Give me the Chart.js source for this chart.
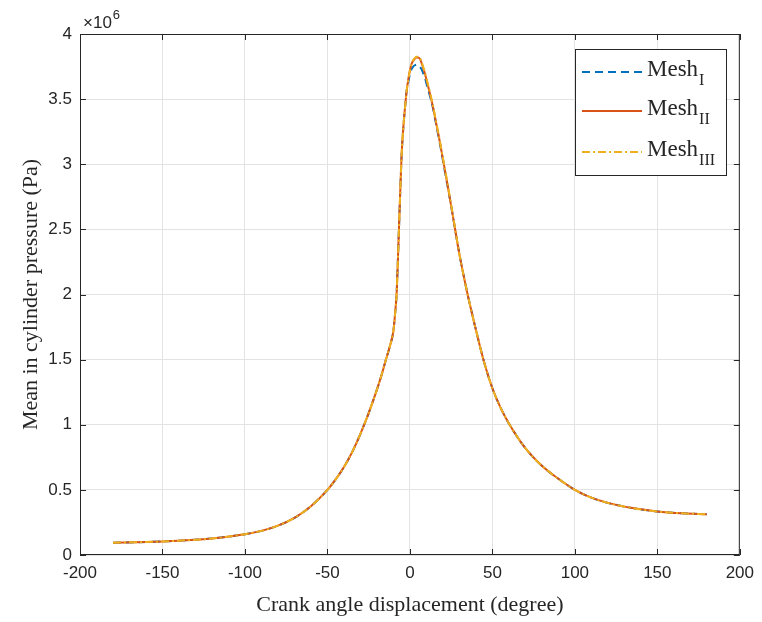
<!DOCTYPE html>
<html lang="en">
<head>
  <meta charset="UTF-8">
  <title>Mean in cylinder pressure</title>
  <script src="https://cdn.jsdelivr.net/npm/chart.js"></script>
  <style>
    html, body { margin: 0; padding: 0; background: #fff; }
    #wrap { width: 762px; height: 622px; }
  </style>
</head>
<body>
  <div id="wrap"><canvas id="chart" width="762" height="622"></canvas></div>

  <script>
    // crank angle (degree)
    const angles = [-180, -160, -140, -120, -100, -90, -80, -70, -60, -50,
      -45, -40, -35, -30, -25, -20, -17, -15, -12, -10,
      -9, -8, -7, -6, -5, -4, -3, -2, -1, 0,
      1, 2, 3, 4, 5, 6, 7, 8, 9, 10,
      12, 14, 16, 18, 20, 22,
      25, 27, 30, 35, 40, 45, 50, 55, 60,
      70, 80, 90, 100, 110, 120, 135, 150, 165, 180];

    // pressure, x10^6 Pa
    const meshI = [0.095, 0.100, 0.110, 0.127, 0.160, 0.185, 0.225, 0.285, 0.375, 0.50,
      0.58, 0.675, 0.79, 0.93, 1.09, 1.27, 1.39, 1.48, 1.61, 1.72,
      1.85, 2.02, 2.37, 2.74, 3.08, 3.28, 3.43, 3.56, 3.63, 3.69,
      3.73, 3.75, 3.76, 3.765, 3.76, 3.75, 3.73, 3.70, 3.67, 3.62,
      3.53, 3.43, 3.30, 3.17, 3.03, 2.89,
      2.68, 2.53, 2.31, 2.00, 1.73, 1.48, 1.28, 1.13, 1.01,
      0.82, 0.685, 0.585, 0.50, 0.44, 0.40, 0.36, 0.334, 0.32, 0.313];
    const meshII = [0.095, 0.100, 0.110, 0.127, 0.160, 0.185, 0.225, 0.285, 0.375, 0.50,
      0.58, 0.675, 0.79, 0.93, 1.09, 1.27, 1.39, 1.48, 1.61, 1.72,
      1.85, 2.02, 2.37, 2.74, 3.08, 3.28, 3.43, 3.56, 3.65, 3.72,
      3.77, 3.795, 3.81, 3.82, 3.82, 3.81, 3.78, 3.74, 3.70, 3.65,
      3.55, 3.44, 3.31, 3.18, 3.04, 2.90,
      2.68, 2.53, 2.31, 2.00, 1.73, 1.48, 1.28, 1.13, 1.01,
      0.82, 0.685, 0.585, 0.50, 0.44, 0.40, 0.36, 0.334, 0.32, 0.313];
    const meshIII = [0.095, 0.100, 0.110, 0.127, 0.160, 0.185, 0.225, 0.285, 0.375, 0.50,
      0.58, 0.675, 0.79, 0.93, 1.09, 1.27, 1.39, 1.48, 1.61, 1.72,
      1.85, 2.02, 2.37, 2.74, 3.08, 3.28, 3.43, 3.56, 3.65, 3.72,
      3.77, 3.80, 3.815, 3.825, 3.825, 3.815, 3.79, 3.75, 3.71, 3.66,
      3.56, 3.45, 3.32, 3.19, 3.05, 2.91,
      2.69, 2.54, 2.31, 2.00, 1.73, 1.48, 1.28, 1.13, 1.01,
      0.82, 0.685, 0.585, 0.50, 0.44, 0.40, 0.36, 0.334, 0.32, 0.313];

    const xTicks = [-200, -150, -100, -50, 0, 50, 100, 150, 200];
    const yTicks = [0, 0.5, 1, 1.5, 2, 2.5, 3, 3.5, 4];
    const seriesNames = [["Mesh", "I"], ["Mesh", "II"], ["Mesh", "III"]];

    const toPts = arr => arr.map((v, i) => ({ x: angles[i], y: v * 1e6 }));

    const axisColor = "#262626";
    const sans = "'Liberation Sans', Arial, sans-serif";
    const serif = "'Liberation Serif', 'Times New Roman', serif";

    // box, inward ticks, x10^6 note and legend drawn MATLAB-style
    const matlabFrame = {
      id: "matlabFrame",
      afterDraw(chart) {
        const { ctx, chartArea: a, scales: { x, y } } = chart;
        ctx.save();
        ctx.strokeStyle = axisColor;
        ctx.lineWidth = 1;
        ctx.strokeRect(a.left + 0.5, a.top + 0.5, a.right - a.left - 1, a.bottom - a.top - 1);
        ctx.beginPath();
        xTicks.forEach(t => {
          const px = Math.round(x.getPixelForValue(t)) + 0.5;
          ctx.moveTo(px, a.bottom); ctx.lineTo(px, a.bottom - 6);
          ctx.moveTo(px, a.top); ctx.lineTo(px, a.top + 6);
        });
        yTicks.forEach(t => {
          const py = Math.round(y.getPixelForValue(t * 1e6)) + 0.5;
          ctx.moveTo(a.left, py); ctx.lineTo(a.left + 6, py);
          ctx.moveTo(a.right, py); ctx.lineTo(a.right - 6, py);
        });
        ctx.stroke();

        // exponent
        ctx.fillStyle = axisColor;
        ctx.textBaseline = "alphabetic";
        ctx.font = "17px " + sans;
        ctx.fillText("\u00d710", a.left + 3, a.top - 6);
        const ew = ctx.measureText("\u00d710").width;
        ctx.font = "13px " + sans;
        ctx.fillText("6", a.left + 4 + ew, a.top - 15);

        // legend
        const lx = 575, ly = 49, lw = 151, lh = 126;
        ctx.fillStyle = "#fff";
        ctx.fillRect(lx, ly, lw, lh);
        ctx.strokeStyle = axisColor;
        ctx.strokeRect(lx + 0.5, ly + 0.5, lw, lh);
        const rows = [72, 111, 152];
        chart.data.datasets.forEach((ds, i) => {
          ctx.save();
          ctx.strokeStyle = ds.borderColor;
          ctx.lineWidth = ds.borderWidth;
          ctx.setLineDash(ds.borderDash || []);
          ctx.beginPath();
          ctx.moveTo(582, rows[i]);
          ctx.lineTo(642, rows[i]);
          ctx.stroke();
          ctx.restore();
          ctx.fillStyle = axisColor;
          ctx.font = "23px " + serif;
          ctx.textBaseline = "alphabetic";
          ctx.fillText(seriesNames[i][0], 647, rows[i] + 4);
          const w = ctx.measureText(seriesNames[i][0]).width;
          ctx.font = "16px " + serif;
          ctx.fillText(seriesNames[i][1], 648 + w, rows[i] + 13);
        });
        ctx.restore();
      }
    };

    const ctx = document.getElementById("chart").getContext("2d");
    new Chart(ctx, {
      type: "line",
      data: {
        datasets: [
          { label: "Mesh I", data: toPts(meshI), borderColor: "#0072BD", borderWidth: 2, borderDash: [8, 5], order: 3 },
          { label: "Mesh II", data: toPts(meshII), borderColor: "#D95319", borderWidth: 2, order: 2 },
          { label: "Mesh III", data: toPts(meshIII), borderColor: "#EDB120", borderWidth: 2, borderDash: [8, 3, 2, 3], order: 1 }
        ]
      },
      options: {
        responsive: false,
        animation: false,
        events: [],
        elements: { point: { radius: 0 }, line: { cubicInterpolationMode: "monotone", fill: false } },
        layout: { padding: { top: 34, right: 21, left: 0, bottom: 0 } },
        plugins: { legend: { display: false }, tooltip: { enabled: false } },
        scales: {
          x: {
            type: "linear",
            min: -200, max: 200,
            afterBuildTicks(scale) { scale.ticks = xTicks.map(v => ({ value: v })); },
            afterFit(scale) { scale.height = 67; },
            grid: { color: "#e3e3e3", drawTicks: false },
            border: { display: false },
            ticks: { color: axisColor, font: { size: 17, family: sans }, padding: 8, maxRotation: 0 },
            title: { display: true, text: "Crank angle displacement (degree)", color: axisColor,
              font: { size: 22, family: serif }, padding: { top: 0, bottom: 4 } }
          },
          y: {
            min: 0, max: 4e6,
            afterBuildTicks(scale) { scale.ticks = yTicks.map(v => ({ value: v * 1e6 })); },
            afterFit(scale) { scale.width = 80; },
            grid: { color: "#e3e3e3", drawTicks: false },
            border: { display: false },
            ticks: { color: axisColor, font: { size: 17, family: sans }, padding: 8,
              callback: v => String(v / 1e6) },
            title: { display: true, text: "Mean in cylinder pressure (Pa)", color: axisColor,
              font: { size: 22, family: serif }, padding: { top: 18, bottom: 0 } }
          }
        }
      },
      plugins: [matlabFrame]
    });
  </script>
</body>
</html>
